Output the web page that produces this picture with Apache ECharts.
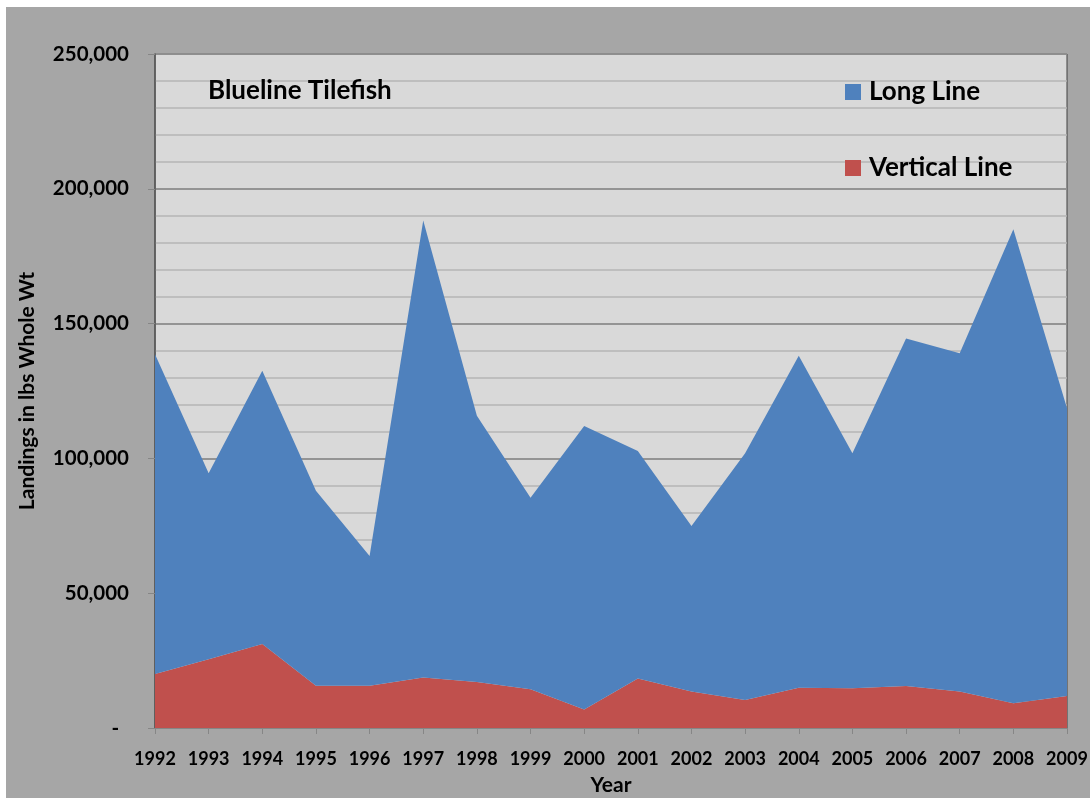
<!DOCTYPE html>
<html>
<head>
<meta charset="utf-8">
<script src="https://cdn.jsdelivr.net/npm/echarts@6/dist/echarts.min.js"></script>
<style>
  html, body { margin: 0; padding: 0; background: #ffffff; }
  #main {
    position: absolute; left: 6px; top: 7px;
    width: 1084px; height: 791px;
  }
</style>
</head>
<body>
<div id="main"></div>
<script>
// data
const years = ['1992', '1993', '1994', '1995', '1996', '1997', '1998', '1999', '2000',
  '2001', '2002', '2003', '2004', '2005', '2006', '2007', '2008', '2009'];
const verticalLine = [20000, 25500, 31200, 15700, 15700, 18700, 17100, 14400, 6900,
  18400, 13500, 10400, 14900, 14700, 15600, 13500, 9200, 11900];
const longLine = [118600, 69000, 101300, 72300, 48100, 169500, 98700, 71000, 105100,
  84300, 61400, 91500, 123200, 87200, 128900, 125500, 175800, 106700];
const yTicks = [0, 50000, 100000, 150000, 200000, 250000];

const font = 'Lato';

const chart = echarts.init(document.getElementById('main'));
chart.setOption({
  backgroundColor: '#a6a6a6',
  animation: false,
  textStyle: { fontFamily: font },
  title: {
    text: 'Blueline Tilefish',
    left: 197,
    top: 66,
    textStyle: { fontFamily: font, fontSize: 26, fontWeight: 'bold', color: '#000' }
  },
  legend: {
    data: ['Long Line', 'Vertical Line'],
    orient: 'vertical',
    left: 834,
    top: 65,
    icon: 'rect',
    itemWidth: 16,
    itemHeight: 16,
    itemGap: 46,
    textStyle: {
      fontFamily: font, fontSize: 26, fontWeight: 'bold', color: '#000',
      lineHeight: 30, padding: [0, 0, 0, 3]
    }
  },
  grid: {
    left: 149, right: 23, top: 47, bottom: 70,
    outerBoundsMode: 'none',
    show: true,
    backgroundColor: '#d9d9d9',
    borderColor: '#404040',
    borderWidth: 1
  },
  xAxis: {
    type: 'category',
    data: years,
    boundaryGap: false,
    name: 'Year',
    nameLocation: 'middle',
    nameGap: 47,
    nameTextStyle: { fontFamily: font, fontSize: 21, fontWeight: 'bold', color: '#000' },
    axisLine: { lineStyle: { color: '#868686', width: 1 } },
    axisTick: { show: true, interval: 0, length: 6, lineStyle: { color: '#868686' } },
    axisLabel: {
      interval: 0, hideOverlap: false, margin: 22,
      fontFamily: font, fontSize: 18, fontWeight: 'bold', color: '#000'
    },
    splitLine: { show: false }
  },
  yAxis: [
    {
      // minor grid every 10,000
      type: 'value',
      min: 0, max: 250000, interval: 10000,
      axisLine: { show: false },
      axisTick: { show: false },
      axisLabel: { show: false },
      splitLine: { lineStyle: { color: '#b4b4b4', width: 1.5 } }
    },
    {
      type: 'value',
      min: yTicks[0], max: yTicks[yTicks.length - 1], interval: 50000,
      position: 'left',
      name: 'Landings in lbs Whole Wt',
      nameLocation: 'middle',
      nameGap: 117,
      nameTextStyle: { fontFamily: font, fontSize: 21, fontWeight: 'bold', color: '#000' },
      axisLine: { show: true, lineStyle: { color: '#595959', width: 1.5 } },
      axisTick: { show: true, length: 7, lineStyle: { color: '#868686' } },
      axisLabel: {
        margin: 26,
        fontFamily: font, fontSize: 20.5, fontWeight: 'bold', color: '#000',
        formatter: v => v === 0 ? '-  ' : v.toLocaleString('en-US')
      },
      splitLine: { lineStyle: { color: '#868686', width: 1.5 } }
    }
  ],
  series: [
    {
      name: 'Vertical Line',
      type: 'line',
      stack: 'total',
      data: verticalLine,
      symbol: 'none',
      color: '#c0504d',
      lineStyle: { width: 0 },
      areaStyle: { color: '#c0504d', opacity: 1 }
    },
    {
      name: 'Long Line',
      type: 'line',
      stack: 'total',
      data: longLine,
      symbol: 'none',
      color: '#4f81bd',
      lineStyle: { width: 0 },
      areaStyle: { color: '#4f81bd', opacity: 1 }
    }
  ]
});
</script>
</body>
</html>
